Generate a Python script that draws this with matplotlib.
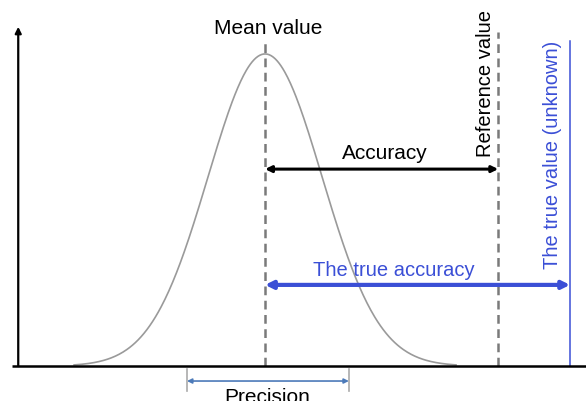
import numpy as np
import matplotlib
matplotlib.use("Agg")
import matplotlib.pyplot as plt

plt.rcParams['font.family'] = ['Liberation Sans', 'DejaVu Sans']

# values in units of one standard deviation, mean at 0, peak height 1
mean_value = 0.0
sigma = 1.0
reference_value = 4.09
true_value = 5.35
precision_range = (-1.37, 1.47)

labels = {
    "mean": "Mean value",
    "reference": "Reference value",
    "true": "The true value (unknown)",
    "accuracy": "Accuracy",
    "true_accuracy": "The true accuracy",
    "precision": "Precision",
}

GREY = "#7a7a7a"
CURVE = "#9a9a9a"
BLUE = "#3b4fd6"
STEEL = "#4c7ab9"

fig = plt.figure(figsize=(5.86, 4.02), dpi=100)
ax = fig.add_axes([0, 0, 1, 1])
ax.set_xlim(-4.65, 5.63)
ax.set_ylim(-0.112, 1.176)
ax.axis("off")

# the distribution
xs = np.linspace(mean_value - 3.35 * sigma, mean_value + 3.35 * sigma, 400)
ys = np.exp(-0.5 * ((xs - mean_value) / sigma) ** 2)
ax.plot(xs, ys, color=CURVE, lw=1.2, zorder=2)

# axes drawn by hand
ax.plot([-4.44, 5.63], [0, 0], color="black", lw=1.8, zorder=3, solid_capstyle="butt")
ax.annotate("", xy=(-4.33, 1.087), xytext=(-4.33, 0),
            arrowprops=dict(arrowstyle="-|>", color="black", lw=1.6,
                            mutation_scale=9, shrinkA=0, shrinkB=0))

dash = (0, (3.5, 2.2))
ax.plot([mean_value, mean_value], [0, 1.038], color=GREY, lw=1.8, ls=dash, zorder=1)
ax.plot([reference_value, reference_value], [0, 1.07], color=GREY, lw=1.8, ls=dash, zorder=1)
ax.plot([true_value, true_value], [0, 1.042], color=BLUE, lw=1.1, zorder=1)

# accuracy arrows
ax.annotate("", xy=(mean_value, 0.631), xytext=(reference_value, 0.631),
            arrowprops=dict(arrowstyle="<|-|>", color="black", lw=2.2,
                            mutation_scale=9, shrinkA=0, shrinkB=0), zorder=4)
ax.annotate("", xy=(mean_value, 0.26), xytext=(true_value, 0.26),
            arrowprops=dict(arrowstyle="<|-|>", color=BLUE, lw=3.0,
                            mutation_scale=11, shrinkA=0, shrinkB=0), zorder=4)

# precision bracket
for px in precision_range:
    ax.plot([px, px], [-0.01, -0.08], color="#aaaaaa", lw=1.2)
ax.annotate("", xy=(precision_range[0], -0.048), xytext=(precision_range[1], -0.048),
            arrowprops=dict(arrowstyle="<|-|>", color=STEEL, lw=1.2,
                            mutation_scale=7, shrinkA=0, shrinkB=0))

fs = 15
ax.text(0.05, 1.085, labels["mean"], ha="center", va="center", fontsize=fs)
ax.text(2.1, 0.683, labels["accuracy"], ha="center", va="center", fontsize=fs)
ax.text(2.26, 0.308, labels["true_accuracy"], ha="center", va="center",
        fontsize=14.5, color=BLUE)
ax.text(0.03, -0.097, labels["precision"], ha="center", va="center", fontsize=fs)
ax.text(3.86, 0.91, labels["reference"], ha="center", va="center",
        fontsize=14.5, rotation=90)
ax.text(5.05, 0.679, labels["true"], ha="center", va="center",
        fontsize=14.5, rotation=90, color=BLUE)

fig.savefig("out.png", dpi=100)
